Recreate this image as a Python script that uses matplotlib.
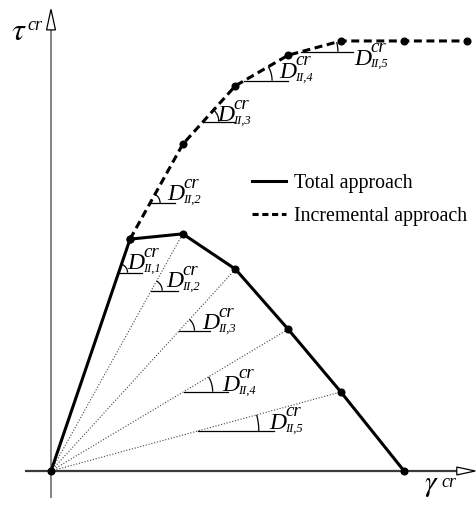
import numpy as np
import matplotlib
matplotlib.use("Agg")
import matplotlib.pyplot as plt
from matplotlib.patches import Arc, Polygon
from matplotlib.lines import Line2D

plt.rcParams['font.family'] = ['Liberation Serif', 'DejaVu Serif']

# ---------------- data ----------------
total_gamma = [0.0, 1.5, 2.5, 3.5, 4.5, 5.5, 6.7]
total_tau = [0.0, 4.40, 4.50, 3.83, 2.69, 1.50, 0.0]

incr_gamma = [1.5, 2.5, 3.5, 4.5, 5.5, 6.7, 7.9]
incr_tau = [4.40, 6.20, 7.31, 7.89, 8.16, 8.16, 8.16]

total_subs = ['II,1', 'II,2', 'II,3', 'II,4', 'II,5']
incr_subs = ['II,2', 'II,3', 'II,4', 'II,5']
legend_labels = ['Total approach', 'Incremental approach']

# ---------------- layout (angle markers) ----------------
tot_level = [3.763, 3.421, 2.662, 1.505, 0.759]
tot_end = [1.727, 2.410, 3.017, 3.359, 4.231]
tot_r = [0.17, 0.21, 0.29, 0.55, 1.16]
tot_lx = [1.45, 2.19, 2.87, 3.25, 4.14]
tot_ly = [3.83, 3.49, 2.69, 1.52, 0.80]
inc_level = [5.085, 6.628, 7.406, 7.956]
inc_end = [2.353, 3.491, 4.497, 5.731]
inc_r = [0.19, 0.30, 0.53, 0.70]
inc_lx = [2.21, 3.16, 4.33, 5.76]
inc_ly = [5.14, 6.64, 7.46, 7.71]

S = 52.7  # px per unit
W, H = 476, 509
x0, y0 = 51, 471

fig = plt.figure(figsize=(W / 100, H / 100), dpi=100)
ax = fig.add_axes([0, 0, 1, 1])
ax.set_xlim(-x0 / S, (W - x0) / S)
ax.set_ylim(-(H - y0) / S, y0 / S)
ax.axis('off')


def sym_label(x, y, main, sup, sub, size, sup_size, sub_size, sup_off, sub_off, main_family=None):
    kw = dict(ha='left', va='baseline', fontstyle='italic', zorder=5,
              textcoords='offset points', xycoords='data')
    if main_family:
        ax.annotate(main, (x, y), xytext=(0, 0), fontsize=size, family=main_family, **kw)
    else:
        ax.annotate(main, (x, y), xytext=(0, 0), fontsize=size, **kw)
    if sup:
        ax.annotate(sup, (x, y), xytext=sup_off, fontsize=sup_size, **kw)
    if sub:
        ax.annotate(sub, (x, y), xytext=sub_off, fontsize=sub_size, **kw)


# axes with open arrowheads
ax.plot([-0.49, 7.70], [0, 0], color='#3a3a3a', lw=1.6, zorder=1, solid_capstyle='butt')
ax.plot([0, 0], [-0.51, 8.37], color='#7a7a7a', lw=1.3, zorder=1, solid_capstyle='butt')
ax.add_patch(Polygon([[7.70, 0.075], [8.05, 0], [7.70, -0.075]], closed=True,
                     facecolor='white', edgecolor='black', lw=0.9, zorder=2))
ax.add_patch(Polygon([[-0.085, 8.37], [0, 8.76], [0.085, 8.37]], closed=True,
                     facecolor='white', edgecolor='black', lw=0.9, zorder=2))
sym_label(-0.74, 8.18, '\u03c4', 'cr', None, 23, 13, 9, (10.8, 7.2), (0, 0),
          main_family=['STIXGeneral', 'DejaVu Serif'])
sym_label(7.08, -0.38, '\u03b3', 'cr', None, 21, 13, 9, (12.2, 2.9), (0, 0),
          main_family=['STIXGeneral', 'DejaVu Serif'])

# dotted rays from origin to intermediate total points
for gx, ty in zip(total_gamma[2:6], total_tau[2:6]):
    ax.plot([0, gx], [0, ty], color='#444444', lw=0.8, ls=(0, (1, 1.6)), zorder=2)

# curves
ax.plot(total_gamma, total_tau, color='black', lw=2.2, marker='o', ms=4.8,
        zorder=4, solid_joinstyle='miter')
ax.plot(incr_gamma, incr_tau, color='black', lw=2.2, ls=(0, (2.6, 1.5)),
        marker='o', ms=4.8, zorder=4)


def marker(xs, ys, level, end, r, lx, ly, sub):
    if ys[0] < ys[1]:
        x_int = np.interp(level, ys, xs)
    else:
        x_int = np.interp(level, ys[::-1], xs[::-1])
    ang = np.degrees(np.arctan2(ys[1] - ys[0], xs[1] - xs[0]))
    ax.plot([x_int, end], [level, level], color='black', lw=0.9, zorder=3)
    ax.add_patch(Arc((x_int, level), 2 * r, 2 * r, theta1=0, theta2=ang,
                     color='black', lw=0.9, zorder=3))
    sym_label(lx, ly, 'D', 'cr', sub, 17, 13.5, 9, (11.6, 9.0), (11.4, -1.8))


for k in range(5):
    marker([0, total_gamma[k + 1]], [0, total_tau[k + 1]], tot_level[k], tot_end[k],
           tot_r[k], tot_lx[k], tot_ly[k], total_subs[k])
for k in range(4):
    marker([incr_gamma[k], incr_gamma[k + 1]], [incr_tau[k], incr_tau[k + 1]],
           inc_level[k], inc_end[k], inc_r[k], inc_lx[k], inc_ly[k], incr_subs[k])

handles = [Line2D([], [], color='black', lw=2.2),
           Line2D([], [], color='black', lw=2.2, ls=(0, (2.0, 1.2)))]
ax.legend(handles, legend_labels, loc='upper left',
          bbox_to_anchor=(252 / W, 1 - 174 / H), frameon=False, fontsize=14.3,
          handlelength=1.7, handletextpad=0.42, labelspacing=0.72,
          borderpad=0, borderaxespad=0)

fig.savefig('out.png', dpi=100)
